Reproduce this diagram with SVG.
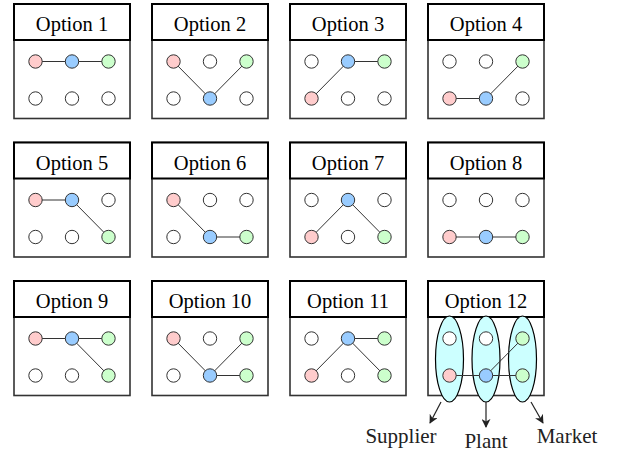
<svg xmlns="http://www.w3.org/2000/svg" width="624" height="453" viewBox="0 0 624 453">
<defs>
<style>
.hdr{fill:#fff;stroke:#000;stroke-width:2}
.body{fill:none;stroke:#333;stroke-width:1.6}
.t{font-size:20.5px;fill:#000;text-anchor:middle}
.lbl{font-size:21px;fill:#222;text-anchor:middle}
.n{stroke:#333;stroke-width:1}
.w{fill:#fff}
.p{fill:#ffcccc}
.b{fill:#99ccff}
.g{fill:#ccffcc}
.e{stroke:#333;stroke-width:1;fill:none}
.ell{fill:#ccffff;stroke:#000;stroke-width:1.2}
.ar{stroke:#222;stroke-width:1.2;fill:none;marker-end:url(#ah)}
</style>
<marker id="ah" viewBox="0 0 10 10" refX="9" refY="5" markerWidth="9" markerHeight="9" markerUnits="userSpaceOnUse" orient="auto">
<path d="M0,0 L10,5 L0,10 L3,5 z" fill="#222"/>
</marker>
</defs>
<rect width="624" height="453" fill="#fff"/>

<g id="opt1"><rect class="body" x="14" y="4" width="116" height="114.5"/><rect class="hdr" x="14" y="4" width="116" height="36"/><text class="t" font-family="Liberation Serif" x="72" y="31">Option 1</text></g>
<g id="opt2"><rect class="body" x="152" y="4" width="116" height="114.5"/><rect class="hdr" x="152" y="4" width="116" height="36"/><text class="t" font-family="Liberation Serif" x="210" y="31">Option 2</text></g>
<g id="opt3"><rect class="body" x="290" y="4" width="116" height="114.5"/><rect class="hdr" x="290" y="4" width="116" height="36"/><text class="t" font-family="Liberation Serif" x="348" y="31">Option 3</text></g>
<g id="opt4"><rect class="body" x="428" y="4" width="116" height="114.5"/><rect class="hdr" x="428" y="4" width="116" height="36"/><text class="t" font-family="Liberation Serif" x="486" y="31">Option 4</text></g>
<g id="opt5"><rect class="body" x="14" y="142.5" width="116" height="114.5"/><rect class="hdr" x="14" y="142.5" width="116" height="36"/><text class="t" font-family="Liberation Serif" x="72" y="169.5">Option 5</text></g>
<g id="opt6"><rect class="body" x="152" y="142.5" width="116" height="114.5"/><rect class="hdr" x="152" y="142.5" width="116" height="36"/><text class="t" font-family="Liberation Serif" x="210" y="169.5">Option 6</text></g>
<g id="opt7"><rect class="body" x="290" y="142.5" width="116" height="114.5"/><rect class="hdr" x="290" y="142.5" width="116" height="36"/><text class="t" font-family="Liberation Serif" x="348" y="169.5">Option 7</text></g>
<g id="opt8"><rect class="body" x="428" y="142.5" width="116" height="114.5"/><rect class="hdr" x="428" y="142.5" width="116" height="36"/><text class="t" font-family="Liberation Serif" x="486" y="169.5">Option 8</text></g>
<g id="opt9"><rect class="body" x="14" y="281" width="116" height="114.5"/><rect class="hdr" x="14" y="281" width="116" height="36"/><text class="t" font-family="Liberation Serif" x="72" y="308">Option 9</text></g>
<g id="opt10"><rect class="body" x="152" y="281" width="116" height="114.5"/><rect class="hdr" x="152" y="281" width="116" height="36"/><text class="t" font-family="Liberation Serif" x="210" y="308">Option 10</text></g>
<g id="opt11"><rect class="body" x="290" y="281" width="116" height="114.5"/><rect class="hdr" x="290" y="281" width="116" height="36"/><text class="t" font-family="Liberation Serif" x="348" y="308">Option 11</text></g>
<g id="opt12"><rect class="body" x="428" y="281" width="116" height="114.5"/><rect class="hdr" x="428" y="281" width="116" height="36"/><text class="t" font-family="Liberation Serif" x="486" y="308">Option 12</text>
<ellipse id="supplier-group" class="ell" cx="449.5" cy="359" rx="14" ry="43"/>
<ellipse id="plant-group" class="ell" cx="486" cy="359" rx="14" ry="43"/>
<ellipse id="market-group" class="ell" cx="522.5" cy="359" rx="14" ry="43"/>
</g>

<g id="connectors">
<path class="e" d="M35.5,61.5 H108.5"/>
<path class="e" d="M173.5,61.5 L210,98.5 L246.5,61.5"/>
<path class="e" d="M311.5,98.5 L348,61.5 H384.5"/>
<path class="e" d="M449.5,98.5 H486 L522.5,61.5"/>
<path class="e" d="M35.5,200 H72 L108.5,237"/>
<path class="e" d="M173.5,200 L210,237 H246.5"/>
<path class="e" d="M311.5,237 L348,200 L384.5,237"/>
<path class="e" d="M449.5,237 H522.5"/>
<path class="e" d="M35.5,338.5 H108.5 M72,338.5 L108.5,375.5"/>
<path class="e" d="M173.5,338.5 L210,375.5 L246.5,338.5 M210,375.5 H246.5"/>
<path class="e" d="M311.5,375.5 L348,338.5 H384.5 M348,338.5 L384.5,375.5"/>
<path class="e" d="M449.5,375.5 H522.5 M486,375.5 L522.5,338.5"/>
<line class="ar" x1="441" y1="402" x2="430" y2="423"/>
<line class="ar" x1="486" y1="402" x2="486" y2="427"/>
<line class="ar" x1="531" y1="402" x2="543" y2="423"/>
</g>

<g id="nodes1" class="n"><circle class="p" cx="35.5" cy="61.5" r="6.7"/><circle class="b" cx="72" cy="61.5" r="6.7"/><circle class="g" cx="108.5" cy="61.5" r="6.7"/><circle class="w" cx="35.5" cy="98.5" r="6.7"/><circle class="w" cx="72" cy="98.5" r="6.7"/><circle class="w" cx="108.5" cy="98.5" r="6.7"/></g>
<g id="nodes2" class="n"><circle class="p" cx="173.5" cy="61.5" r="6.7"/><circle class="w" cx="210" cy="61.5" r="6.7"/><circle class="g" cx="246.5" cy="61.5" r="6.7"/><circle class="w" cx="173.5" cy="98.5" r="6.7"/><circle class="b" cx="210" cy="98.5" r="6.7"/><circle class="w" cx="246.5" cy="98.5" r="6.7"/></g>
<g id="nodes3" class="n"><circle class="w" cx="311.5" cy="61.5" r="6.7"/><circle class="b" cx="348" cy="61.5" r="6.7"/><circle class="g" cx="384.5" cy="61.5" r="6.7"/><circle class="p" cx="311.5" cy="98.5" r="6.7"/><circle class="w" cx="348" cy="98.5" r="6.7"/><circle class="w" cx="384.5" cy="98.5" r="6.7"/></g>
<g id="nodes4" class="n"><circle class="w" cx="449.5" cy="61.5" r="6.7"/><circle class="w" cx="486" cy="61.5" r="6.7"/><circle class="g" cx="522.5" cy="61.5" r="6.7"/><circle class="p" cx="449.5" cy="98.5" r="6.7"/><circle class="b" cx="486" cy="98.5" r="6.7"/><circle class="w" cx="522.5" cy="98.5" r="6.7"/></g>
<g id="nodes5" class="n"><circle class="p" cx="35.5" cy="200" r="6.7"/><circle class="b" cx="72" cy="200" r="6.7"/><circle class="w" cx="108.5" cy="200" r="6.7"/><circle class="w" cx="35.5" cy="237" r="6.7"/><circle class="w" cx="72" cy="237" r="6.7"/><circle class="g" cx="108.5" cy="237" r="6.7"/></g>
<g id="nodes6" class="n"><circle class="p" cx="173.5" cy="200" r="6.7"/><circle class="w" cx="210" cy="200" r="6.7"/><circle class="w" cx="246.5" cy="200" r="6.7"/><circle class="w" cx="173.5" cy="237" r="6.7"/><circle class="b" cx="210" cy="237" r="6.7"/><circle class="g" cx="246.5" cy="237" r="6.7"/></g>
<g id="nodes7" class="n"><circle class="w" cx="311.5" cy="200" r="6.7"/><circle class="b" cx="348" cy="200" r="6.7"/><circle class="w" cx="384.5" cy="200" r="6.7"/><circle class="p" cx="311.5" cy="237" r="6.7"/><circle class="w" cx="348" cy="237" r="6.7"/><circle class="g" cx="384.5" cy="237" r="6.7"/></g>
<g id="nodes8" class="n"><circle class="w" cx="449.5" cy="200" r="6.7"/><circle class="w" cx="486" cy="200" r="6.7"/><circle class="w" cx="522.5" cy="200" r="6.7"/><circle class="p" cx="449.5" cy="237" r="6.7"/><circle class="b" cx="486" cy="237" r="6.7"/><circle class="g" cx="522.5" cy="237" r="6.7"/></g>
<g id="nodes9" class="n"><circle class="p" cx="35.5" cy="338.5" r="6.7"/><circle class="b" cx="72" cy="338.5" r="6.7"/><circle class="g" cx="108.5" cy="338.5" r="6.7"/><circle class="w" cx="35.5" cy="375.5" r="6.7"/><circle class="w" cx="72" cy="375.5" r="6.7"/><circle class="g" cx="108.5" cy="375.5" r="6.7"/></g>
<g id="nodes10" class="n"><circle class="p" cx="173.5" cy="338.5" r="6.7"/><circle class="w" cx="210" cy="338.5" r="6.7"/><circle class="g" cx="246.5" cy="338.5" r="6.7"/><circle class="w" cx="173.5" cy="375.5" r="6.7"/><circle class="b" cx="210" cy="375.5" r="6.7"/><circle class="g" cx="246.5" cy="375.5" r="6.7"/></g>
<g id="nodes11" class="n"><circle class="w" cx="311.5" cy="338.5" r="6.7"/><circle class="b" cx="348" cy="338.5" r="6.7"/><circle class="g" cx="384.5" cy="338.5" r="6.7"/><circle class="p" cx="311.5" cy="375.5" r="6.7"/><circle class="w" cx="348" cy="375.5" r="6.7"/><circle class="g" cx="384.5" cy="375.5" r="6.7"/></g>
<g id="nodes12" class="n"><circle class="w" cx="449.5" cy="338.5" r="6.7"/><circle class="w" cx="486" cy="338.5" r="6.7"/><circle class="g" cx="522.5" cy="338.5" r="6.7"/><circle class="p" cx="449.5" cy="375.5" r="6.7"/><circle class="b" cx="486" cy="375.5" r="6.7"/><circle class="g" cx="522.5" cy="375.5" r="6.7"/></g>

<g id="labels">
<text class="lbl" font-family="Liberation Serif" x="401" y="443">Supplier</text>
<text class="lbl" font-family="Liberation Serif" x="486" y="448">Plant</text>
<text class="lbl" font-family="Liberation Serif" x="567" y="443">Market</text>
</g>
</svg>
